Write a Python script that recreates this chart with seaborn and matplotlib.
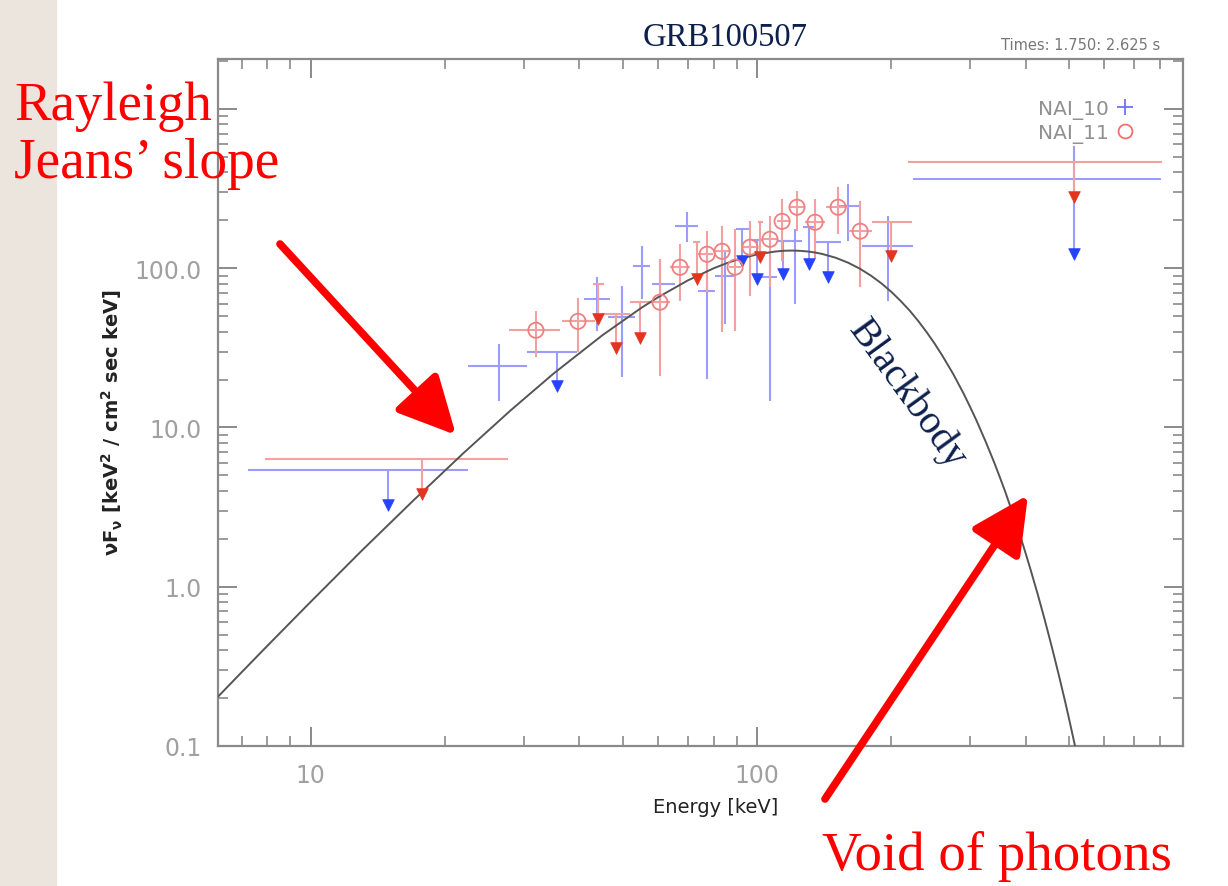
import matplotlib
matplotlib.use("Agg")
import matplotlib.pyplot as plt
from matplotlib.lines import Line2D
from matplotlib.patches import Rectangle, FancyArrowPatch
from matplotlib.ticker import FixedLocator, FixedFormatter, NullFormatter
import pandas as pd
import seaborn as sns

# ---------------- data ----------------
# Blackbody model curve (Energy keV, nuFnu)
bb_energy = [6.2, 7, 8, 10, 13, 17, 22, 28, 35, 45, 55, 60, 70, 80, 85, 90, 100, 110, 115,
             120, 125, 130, 135, 140, 150, 160, 170, 180, 190, 200, 210, 220, 230, 240, 250,
             260, 275, 290, 300, 310, 325, 340, 350, 360, 375, 390, 400, 410, 425, 440, 450,
             460, 475, 490, 500, 520]
bb_flux = [0.204, 0.290, 0.426, 0.804, 1.68, 3.49, 6.91, 12.75, 21.8, 37.9, 56.3, 65.7, 83.9,
           100.0, 106.9, 113.0, 122.2, 127.4, 128.8, 129.1, 128.6, 127.4, 125.5, 122.9, 116.4,
           108.3, 99.3, 89.8, 80.3, 71.0, 62.1, 54.0, 46.4, 39.6, 33.6, 28.3, 21.7, 16.4,
           13.5, 11.1, 8.19, 6.01, 4.86, 3.93, 2.82, 2.02, 1.61, 1.28, 0.905, 0.636, 0.50,
           0.394, 0.274, 0.190, 0.148, 0.090]

# NAI_10 detections: E, E_lo, E_hi, F, F_lo, F_hi
n10_e    = [26.4, 43.8, 49.8, 55.2, 60.6, 69.6, 77.3, 84.8, 106.9, 121.7, 160.0, 196.7]
n10_elo  = [22.5, 40.9, 46.3, 52.7, 58.2, 65.5, 73.8, 80.6, 100.0, 110.9, 151.9, 172.0]
n10_ehi  = [30.5, 46.8, 53.3, 57.6, 65.5, 73.8, 80.6, 89.3, 110.9, 126.0, 170.0, 223.0]
n10_f    = [24.3, 63.8, 49.2, 103.0, 79.3, 183.5, 71.7, 89.1, 87.8, 147.7, 245.0, 137.5]
n10_flo  = [14.6, 40.3, 20.7, 63.9, 45.8, 145.6, 20.1, 44.5, 14.6, 59.4, 147.7, 62.0]
n10_fhi  = [33.3, 87.8, 77.1, 137.5, 113.9, 224.6, 117.0, 126.0, 126.0, 175.9, 336.0, 212.0]

# NAI_10 upper limits: E, E_lo, E_hi, limit, arrow tip, top of line
n10_ul_e    = [14.9, 35.6, 92.5, 100.0, 114.4, 130.8, 144.3, 514.0]
n10_ul_elo  = [7.23, 30.5, 89.5, 97.5, 111.5, 127.0, 135.0, 223.0]
n10_ul_ehi  = [22.5, 39.5, 96.4, 102.5, 118.0, 135.0, 154.0, 802.0]
n10_ul_f    = [5.4, 29.7, 176.0, 150.0, 147.7, 181.0, 145.6, 362.0]
n10_ul_tip  = [3.25, 18.2, 110.6, 85.0, 91.7, 106.0, 87.8, 122.4]
n10_ul_top  = [5.4, 29.7, 176.0, 150.0, 147.7, 181.0, 145.6, 583.0]

# NAI_11 detections
n11_e    = [31.96, 39.7, 60.6, 67.2, 77.3, 83.5, 89.3, 96.4, 106.9, 113.8, 122.9, 134.9, 151.9, 170.2]
n11_elo  = [27.8, 36.6, 57.6, 63.8, 73.8, 79.8, 86.6, 92.0, 103.0, 111.0, 118.0, 128.0, 143.0, 160.0]
n11_ehi  = [36.2, 43.3, 63.8, 70.8, 79.8, 86.6, 92.0, 100.0, 111.0, 118.0, 128.0, 142.0, 160.0, 181.0]
n11_f    = [40.8, 46.4, 61.2, 101.4, 122.4, 127.8, 101.5, 135.5, 152.0, 197.0, 241.6, 194.5, 241.6, 170.8]
n11_flo  = [27.6, 29.7, 21.0, 62.1, 70.7, 39.6, 40.2, 66.7, 76.0, 110.6, 170.8, 113.9, 163.5, 76.0]
n11_fhi  = [53.7, 64.8, 114.0, 141.0, 170.8, 183.5, 175.9, 197.0, 212.0, 271.0, 304.0, 271.0, 322.0, 263.0]

# NAI_11 upper limits
n11_ul_e    = [17.8, 44.0, 48.3, 54.7, 73.3, 101.6, 199.6, 514.0]
n11_ul_elo  = [7.89, 42.9, 44.6, 51.9, 72.0, 100.5, 181.0, 218.0]
n11_ul_ehi  = [27.7, 45.5, 51.9, 58.5, 74.5, 103.0, 222.0, 809.0]
n11_ul_f    = [6.3, 79.3, 51.4, 61.2, 145.6, 194.5, 194.5, 463.0]
n11_ul_tip  = [3.81, 47.9, 31.5, 36.4, 85.3, 117.2, 118.9, 279.0]

x_ticks = [10, 100]
x_ticklabels = ["10", "100"]
y_ticks = [0.1, 1, 10, 100, 1000]
y_ticklabels = ["0.1", "1.0", "10.0", "100.0", ""]

# ---------------- styling ----------------
BLUE_LINE = "#9c9cff"
RED_LINE = "#f2a0a0"
BLUE_TRI = "#2542ff"
RED_TRI = "#e3341f"
NAVY = "#0d1f4d"

sns.set_theme(style="ticks")
plt.rcParams["font.family"] = ["DejaVu Sans"]
plt.rcParams["mathtext.default"] = "regular"

W, H = 1228, 887
fig = plt.figure(figsize=(W / 100, H / 100), dpi=100)
fig.patch.set_facecolor("#ebe5de")
fig.patches.append(Rectangle((57 / W, 0), 1, 1, transform=fig.transFigure,
                             facecolor="white", edgecolor="none", zorder=-10))

ax = fig.add_axes([218 / W, 1 - 747 / H, (1183 - 218) / W, (747 - 60) / H])
ax.set_facecolor("white")
ax.set_xscale("log")
ax.set_yscale("log")
ax.set_xlim(6.2, 900)
ax.set_ylim(0.1, 2060)

# blackbody curve
bb = pd.DataFrame({"E": bb_energy, "F": bb_flux})
sns.lineplot(data=bb, x="E", y="F", ax=ax, color="#555555", lw=1.4, sort=False,
             estimator=None, zorder=3)

lw = 1.5
# NAI_10 detections (crosses)
ax.hlines(n10_f, n10_elo, n10_ehi, colors=BLUE_LINE, lw=lw, zorder=2)
ax.vlines(n10_e, n10_flo, n10_fhi, colors=BLUE_LINE, lw=lw, zorder=2)
# NAI_10 upper limits
ax.hlines(n10_ul_f, n10_ul_elo, n10_ul_ehi, colors=BLUE_LINE, lw=lw, zorder=2)
ax.vlines(n10_ul_e, n10_ul_tip, n10_ul_top, colors=BLUE_LINE, lw=lw, zorder=2)
sns.scatterplot(x=n10_ul_e, y=n10_ul_tip, ax=ax, marker="v", s=70, color=BLUE_TRI,
                edgecolor=BLUE_TRI, linewidth=0.5, zorder=4)

# NAI_11 detections (circles with crosshair)
ax.hlines(n11_f, n11_elo, n11_ehi, colors=RED_LINE, lw=lw, zorder=2)
ax.vlines(n11_e, n11_flo, n11_fhi, colors=RED_LINE, lw=lw, zorder=2)
sns.scatterplot(x=n11_e, y=n11_f, ax=ax, marker="o", s=120, facecolors="none",
                edgecolors="#ef8080", linewidth=1.3, zorder=4)
# NAI_11 upper limits
ax.hlines(n11_ul_f, n11_ul_elo, n11_ul_ehi, colors=RED_LINE, lw=lw, zorder=2)
ax.vlines(n11_ul_e, n11_ul_tip, n11_ul_f, colors=RED_LINE, lw=lw, zorder=2)
sns.scatterplot(x=n11_ul_e, y=n11_ul_tip, ax=ax, marker="v", s=70, color=RED_TRI,
                edgecolor=RED_TRI, linewidth=0.5, zorder=4)

# axes / ticks
for sp in ax.spines.values():
    sp.set_color("#8a8a8a")
    sp.set_linewidth(1.6)
ax.xaxis.set_major_locator(FixedLocator(x_ticks))
ax.xaxis.set_major_formatter(FixedFormatter(x_ticklabels))
ax.xaxis.set_minor_formatter(NullFormatter())
ax.yaxis.set_major_locator(FixedLocator(y_ticks))
ax.yaxis.set_major_formatter(FixedFormatter(y_ticklabels))
ax.yaxis.set_minor_formatter(NullFormatter())
ax.tick_params(which="both", direction="in", top=True, right=True, color="#8a8a8a",
               labelcolor="#a0a0a0", labelsize=17)
ax.tick_params(which="major", length=14, width=1.4, pad=12)
ax.tick_params(which="minor", length=7, width=1.2)
ax.set_xlabel("")
ax.set_ylabel("")
ax.grid(False)

# legend
handles = [Line2D([], [], marker="+", color="#7070ff", ls="none", markersize=11, mew=1.3),
           Line2D([], [], marker="o", mfc="none", mec="#ef7070", ls="none", markersize=10, mew=1.3)]
ax.legend(handles, ["NAI_10", "NAI_11"], loc="upper right", markerfirst=False,
          frameon=False, fontsize=14.5, labelcolor="#909090", handletextpad=0.3,
          handlelength=1.0, borderaxespad=0, labelspacing=0.2,
          bbox_to_anchor=((1143 - 218) / (1183 - 218), (747 - 92) / (747 - 60)))

# axis labels
fig.text(112 / W, 1 - 422 / H, r"νF$_ν$ [keV$^2$ / cm$^2$ sec keV]", rotation=90,
         ha="center", va="center", fontsize=14, fontweight="bold", color="#222222")
fig.text(716 / W, 1 - 808 / H, "Energy [keV]", ha="center", va="center",
         fontsize=14, color="#222222")

# titles
fig.text(725 / W, 1 - 46 / H, "GRB100507", ha="center", va="baseline", fontsize=23.5,
         family="Liberation Serif", color=NAVY)
fig.text(1160 / W, 1 - 50 / H, "Times: 1.750: 2.625 s", ha="right", va="baseline",
         fontsize=10.5, color="#777777")

# annotations
serif = "Liberation Serif"
fig.text(14 / W, 1 - 120 / H, "Rayleigh", ha="left", va="baseline", fontsize=39.5,
         family=serif, color="#ff0000", zorder=10)
fig.text(14 / W, 1 - 178 / H, "Jeans\u2019 slope", ha="left", va="baseline", fontsize=40,
         family=serif, color="#ff0000", zorder=10)
fig.text(822 / W, 1 - 870 / H, "Void of photons", ha="left", va="baseline", fontsize=39.5,
         family=serif, color="#ff0000")
fig.text(907 / W, 1 - 395 / H, "Blackbody", ha="center", va="center", rotation=-54,
         fontsize=29, family=serif, color=NAVY, rotation_mode="anchor")

arrow_kw = dict(arrowstyle="-|>,head_length=1.4,head_width=0.7", lw=5.5, color="#ff0000",
                shrinkA=0, shrinkB=0, mutation_scale=25)
fig.add_artist(FancyArrowPatch((280 / W, 1 - 245 / H), (456 / W, 1 - 436 / H),
                               transform=fig.transFigure, **arrow_kw))
fig.add_artist(FancyArrowPatch((825 / W, 1 - 800 / H), (1028 / W, 1 - 496 / H),
                               transform=fig.transFigure, **arrow_kw))

fig.savefig("out.png", dpi=100, facecolor=fig.get_facecolor())
